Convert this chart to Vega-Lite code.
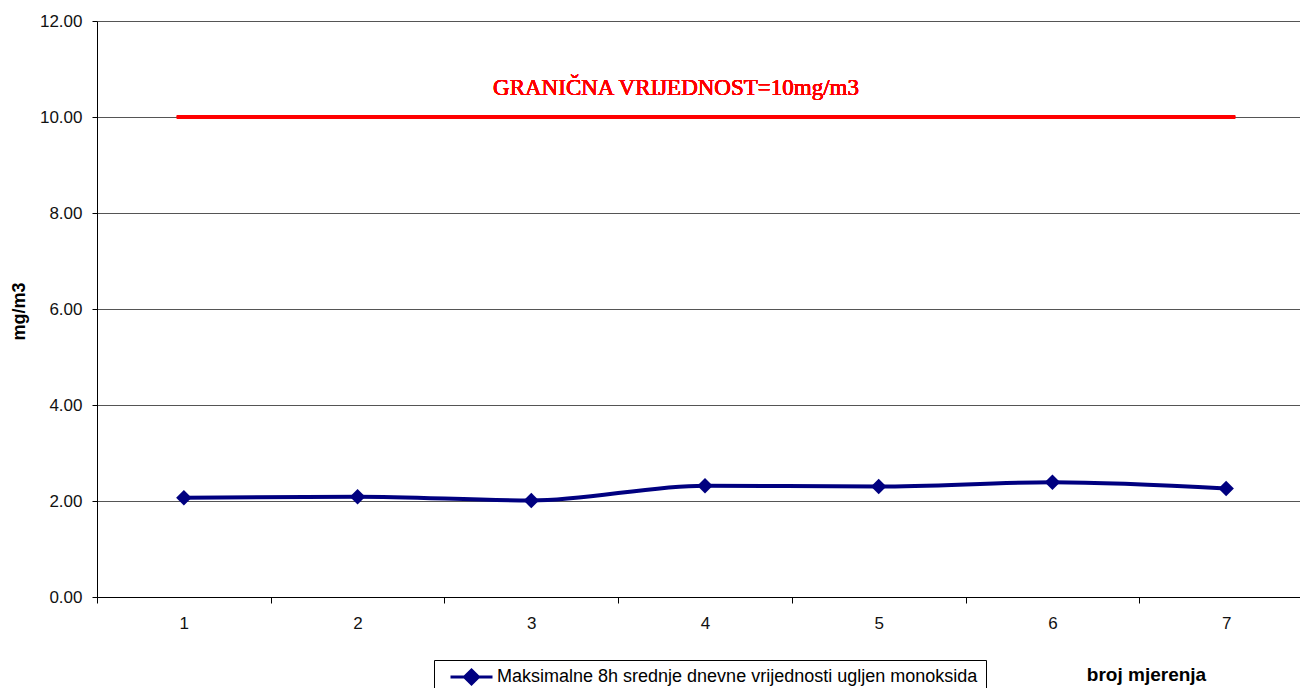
{
  "$schema": "https://vega.github.io/schema/vega-lite/v6.json",
  "width": 1203,
  "height": 576,
  "autosize": {"type": "none"},
  "padding": {"left": 97, "top": 21, "right": 0, "bottom": 91},
  "background": "white",
  "config": {"view": {"stroke": null}, "font": "Liberation Sans"},
  "data": {
    "values": [
      {"mjerenje": "1", "vrijednost": 2.07},
      {"mjerenje": "2", "vrijednost": 2.09},
      {"mjerenje": "3", "vrijednost": 2.01},
      {"mjerenje": "4", "vrijednost": 2.32},
      {"mjerenje": "5", "vrijednost": 2.30},
      {"mjerenje": "6", "vrijednost": 2.39},
      {"mjerenje": "7", "vrijednost": 2.26}
    ]
  },
  "layer": [
    {
      "mark": {"type": "line", "strokeWidth": 4, "interpolate": "monotone"},
      "encoding": {
        "x": {
          "field": "mjerenje", "type": "ordinal", "bandPosition": 0.5,
          "scale": {"type": "band", "paddingInner": 0, "paddingOuter": 0, "range": [0, 1216]},
          "axis": {
            "title": "broj mjerenja", "labelAngle": 0, "tickBand": "extent",
            "tickSize": 6, "labelPadding": 12, "labelFontSize": 17, "labelColor": "#111",
            "labelFont": "Liberation Sans",
            "domainColor": "#000", "tickColor": "#000", "grid": false,
            "titleFontSize": 19, "titleFontWeight": "bold", "titleFont": "Liberation Sans",
            "titleX": 1049, "titleY": 77, "titleBaseline": "middle", "titleAlign": "center", "titleColor": "#000"
          }
        },
        "y": {
          "field": "vrijednost", "type": "quantitative",
          "scale": {"domain": [0, 12], "nice": false},
          "axis": {
            "values": [0, 2, 4, 6, 8, 10, 12], "format": ".2f", "grid": true, "gridColor": "#555",
            "tickSize": 5, "labelPadding": 10, "labelFontSize": 17, "labelColor": "#111",
            "labelFont": "Liberation Sans",
            "domainColor": "#000", "tickColor": "#000",
            "title": "mg/m3", "titleFontSize": 18, "titleFontWeight": "bold", "titleFont": "Liberation Sans",
            "titleX": -78, "titleY": 290, "titleAngle": 270, "titleBaseline": "middle", "titleAlign": "center", "titleColor": "#000"
          }
        },
        "color": {
          "datum": "Maksimalne 8h srednje dnevne vrijednosti ugljen monoksida",
          "scale": {"range": ["#000080"]},
          "legend": {
            "orient": "none", "legendX": 337, "legendY": 639, "title": null,
            "strokeColor": "#000", "fillColor": "#fff", "padding": 8,
            "symbolType": "M-3,0L3,0M0,-1L1,0L0,1L-1,0Z",
            "symbolSize": 196, "symbolStrokeWidth": 3,
            "symbolFillColor": "#000080", "symbolStrokeColor": "#000080",
            "symbolOffset": 20.5, "labelOffset": 16.5,
            "labelFont": "Liberation Sans", "labelFontSize": 18, "labelLimit": 0, "labelColor": "#000"
          }
        }
      }
    },
    {
      "mark": {"type": "point", "shape": "diamond", "filled": true, "size": 240, "opacity": 1},
      "encoding": {
        "x": {"field": "mjerenje", "type": "ordinal", "bandPosition": 0.5},
        "y": {"field": "vrijednost", "type": "quantitative"},
        "color": {"datum": "Maksimalne 8h srednje dnevne vrijednosti ugljen monoksida"}
      }
    },
    {
      "mark": {"type": "rule", "color": "#FF0000", "strokeWidth": 3, "xOffset": -7, "x2Offset": 9},
      "encoding": {
        "x": {"datum": "1", "type": "ordinal", "bandPosition": 0.5},
        "x2": {"datum": "7"},
        "y": {"datum": 10, "type": "quantitative"}
      }
    },
    {
      "mark": {"type": "text", "text": "GRANIČNA VRIJEDNOST=10mg/m3", "color": "#FF0000", "font": "Liberation Serif", "fontSize": 23, "align": "center", "baseline": "middle", "dx": -29},
      "encoding": {
        "x": {"datum": "4", "type": "ordinal", "bandPosition": 0.5},
        "y": {"datum": 10.6, "type": "quantitative"}
      }
    }
  ]
}
